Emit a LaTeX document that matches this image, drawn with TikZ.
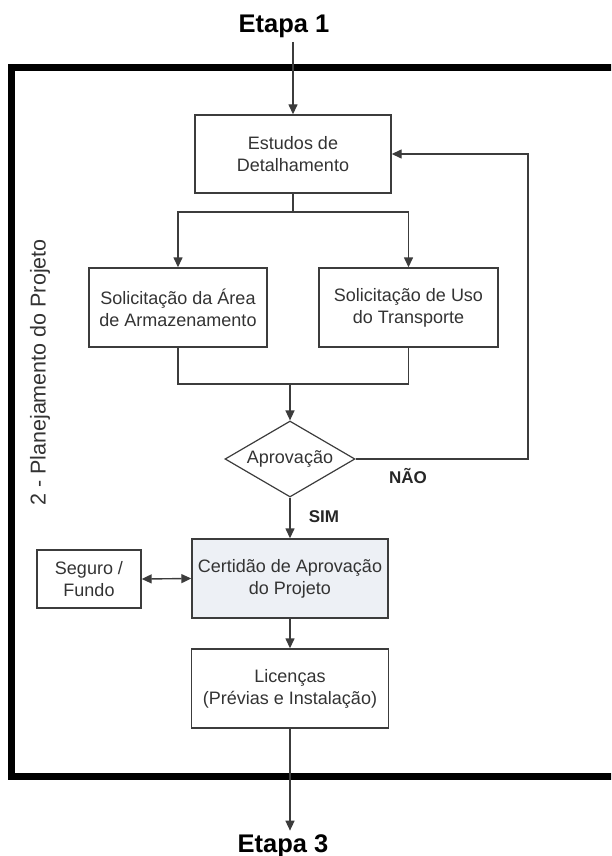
\documentclass[tikz,border=0pt]{standalone}
\usepackage{fontspec}
\setmainfont{Liberation Sans}
\usetikzlibrary{shapes.geometric,arrows.meta}

\definecolor{linha}{HTML}{3C3C3C}
\definecolor{texto}{HTML}{333333}
\definecolor{certfundo}{HTML}{EDF0F5}

\tikzset{
  caixa/.style={draw=linha, line width=1.4pt, rectangle, align=center,
    text=texto, inner sep=0pt, font=\fontsize{18}{22}\selectfont},
  losango/.style={draw=linha, line width=1.2pt, diamond, aspect=1.7,
    inner sep=0pt, minimum width=130pt, minimum height=76pt,
    text=texto, font=\fontsize{18}{22}\selectfont},
  conexao/.style={draw=linha, line width=1.4pt},
  seta/.style={conexao, arrows={-Triangle[length=10pt,width=9pt]}},
  etapa/.style={anchor=base, font=\bfseries\fontsize{25.5}{30}\selectfont},
  sinal/.style={text=black!85, font=\bfseries\fontsize{17}{20}\selectfont}
}

\begin{document}
\begin{tikzpicture}[x=1pt,y=-1pt]
	\useasboundingbox (0,0) rectangle (611,856);

	% moldura da fase 2
	\begin{scope}
	\clip (0,0) rectangle (611,856);
	\draw [line width=7pt] (630,67.5) -- (11.5,67.5) -- (11.5,776.5) -- (630,776.5);
	\end{scope}
	\node [rotate=90, text=texto, font=\fontsize{21.5}{24}\selectfont] (fase) at (40,372.5) {2 - Planejamento do Projeto};

	\node [etapa] (etapa1) at (284,33) {Etapa 1};
	\node [etapa] (etapa3) at (283,852) {Etapa 3};

	\node [caixa, minimum width=196pt, minimum height=78pt] (estudos) at (293,154) {Estudos de\\Detalhamento};
	\node [caixa, minimum width=178pt, minimum height=79pt] (area) at (178,307.5) {Solicitação da Área\\de Armazenamento};
	\node [caixa, minimum width=179pt, minimum height=79pt] (uso) at (408.5,307.5) {Solicitação de Uso\\do Transporte};
	\node [losango] (aprov) at (290,459) {Aprovação};
	\node [caixa, fill=certfundo, minimum width=196pt, minimum height=79pt] (cert) at (290,578.5) {Certidão de Aprovação\\do Projeto};
	\node [caixa, minimum width=104pt, minimum height=58pt] (seguro) at (89,579) {Seguro /\\Fundo};
	\node [caixa, minimum width=197pt, minimum height=79pt] (licencas) at (290,688.5) {Licenças\\(Prévias e Instalação)};

	\node [sinal] (nao) at (408,476) {NÃO};
	\node [sinal] (sim) at (324,517) {SIM};

	\coordinate (divide) at (293,212);
	\coordinate (junta) at (290,384);
	\coordinate (retorno) at (528,459);

	\draw [seta] (estudos.north |- etapa1.south) -- (estudos.north);
	\draw [conexao] (estudos.south) -- (divide);
	\draw [seta] (divide) -| (area.north);
	\draw [seta] (divide) -| (uso.north);
	\draw [conexao] (area.south) |- (junta);
	\draw [conexao] (uso.south) |- (junta);
	\draw [seta] (junta) -- (aprov.north);
	\draw [seta] (aprov.east) -- (retorno) |- (estudos.east);
	\draw [seta] (aprov.south) -- (cert.north);
	\draw [seta, arrows={Triangle[length=10pt,width=9pt]-Triangle[length=10pt,width=9pt]}] (seguro.east) -- (cert.west);
	\draw [seta] (cert.south) -- (licencas.north);
	\draw [seta] (licencas.south) -- (licencas.south |- etapa3.north);
\end{tikzpicture}
\end{document}
